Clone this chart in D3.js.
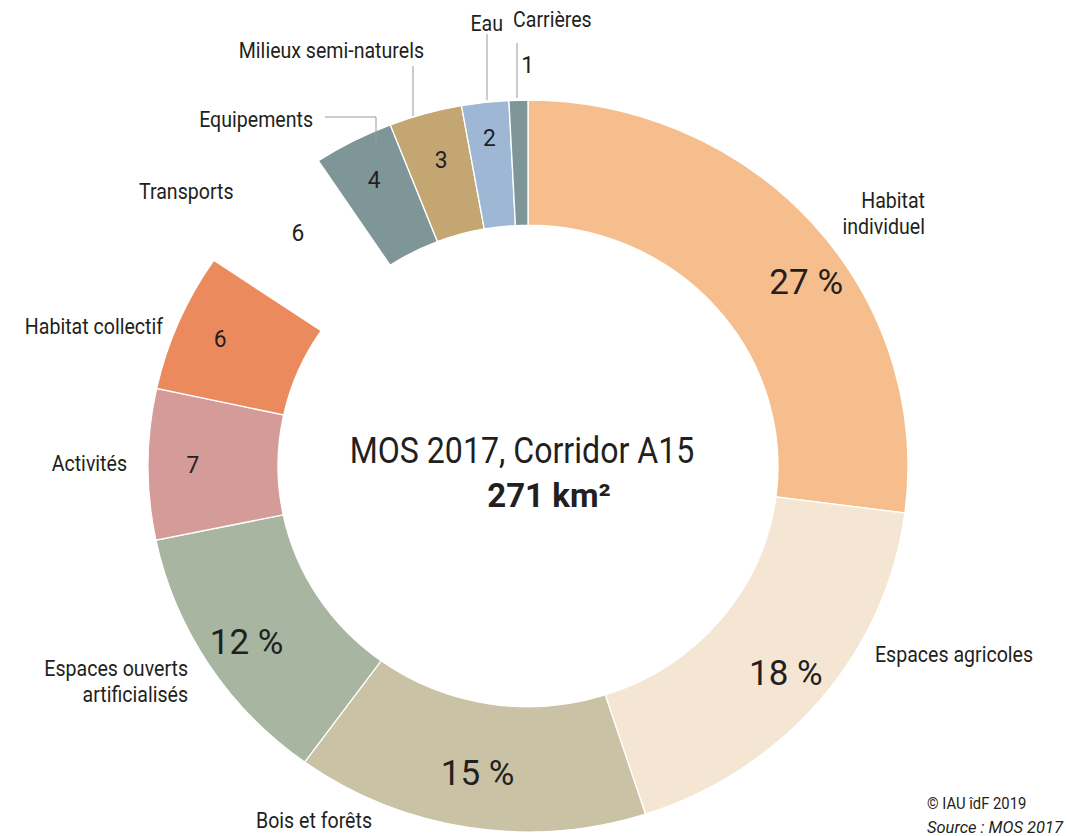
<!DOCTYPE html>
<html><head><meta charset="utf-8">
<script src="https://cdn.jsdelivr.net/npm/d3@7"></script>
<style>
body{margin:0;background:#fff}
svg{display:block}
text{font-family:Roboto,"Liberation Sans",sans-serif;fill:#231f20}
</style>
</head><body>
<svg id="chart" width="1068" height="836"></svg>
<script>
// ---- data ----
const categories = ["Habitat individuel","Espaces agricoles","Bois et forêts","Espaces ouverts artificialisés","Activités","Habitat collectif","Transports","Equipements","Milieux semi-naturels","Eau","Carrières"];
const shares = [27.05, 17.95, 15.0, 11.75, 6.65, 6.1, 6.2, 3.4, 3.1, 2.0, 0.8];
const valueLabels = ["27 %","18 %","15 %","12 %","7","6","6","4","3","2","1"];
const colors = ["#f6bd8d","#f4e6d3","#c9c2a5","#a7b5a1","#d49b98","#eb8b5d","none","#7f9698","#c4a672","#9db7d5","#7f9698"];
const title = "MOS 2017, Corridor A15";
const subtitle = "271 km²";
const credit = "© IAU îdF 2019";
const source = "Source : MOS 2017";

// ---- layout ----
const cx = 528, cy = 466, sy = 0.963;
const rIn = 250, rOut = 380;

const svg = d3.select("#chart");

const pie = d3.pie().sort(null).value(d => d.v);
const data = categories.map((c,i) => ({c, v: shares[i], lab: valueLabels[i], col: colors[i]}));
const arcs = pie(data);
const arc = d3.arc().innerRadius(rIn).outerRadius(rOut);

const g = svg.append("g").attr("transform", `translate(${cx},${cy}) scale(1,${sy})`);
g.selectAll("path").data(arcs).join("path")
  .attr("d", arc)
  .attr("fill", d => d.data.col === "none" ? "none" : d.data.col)
  .attr("stroke", d => d.data.col === "none" ? "none" : "#fff")
  .attr("stroke-width", 1.3)
  .attr("vector-effect","non-scaling-stroke");

function txt(x, y, s, size, anchor, sx, extra) {
  const t = svg.append("text")
    .attr("transform", `translate(${x},${y}) scale(${sx},1)`)
    .attr("text-anchor", anchor || "start")
    .attr("font-size", size)
    .text(s);
  if (extra) extra(t);
  return t;
}

// value labels placed along the ring
const valueLayout = { // radius, angle shift (deg)
  "Habitat individuel":[338, 6.7],
  "Carrières":[417, 1.4],
  "Bois et forêts":[322, 0],
  "Transports":[334, 1.1],
  "Eau":[343, 0],
  "Milieux semi-naturels":[330, 0.4]
};
arcs.forEach(d => {
  const lay = valueLayout[d.data.c] || [335, 0];
  const a = (d.startAngle + d.endAngle)/2 + lay[1]*Math.PI/180;
  const x = cx + lay[0]*Math.sin(a);
  const y = cy - lay[0]*Math.cos(a)*sy;
  const big = d.data.lab.includes("%");
  txt(x, y, d.data.lab, big ? 35 : 24, "middle", big ? 1 : 0.95, t => t.attr("dy","0.36em"));
});

// category labels
const catLayout = {
  "Habitat individuel":[925, 208, "end"],
  "Espaces agricoles":[875, 662, "start"],
  "Bois et forêts":[256, 828, "start"],
  "Espaces ouverts artificialisés":[188, 676, "end"],
  "Activités":[127, 471, "end"],
  "Habitat collectif":[163, 334, "end"],
  "Transports":[139, 199, "start"],
  "Equipements":[313, 127, "end"],
  "Milieux semi-naturels":[424, 58, "end"],
  "Eau":[503, 31, "end"],
  "Carrières":[513, 27, "start"]
};
const twoLine = {"Habitat individuel":["Habitat","individuel"], "Espaces ouverts artificialisés":["Espaces ouverts","artificialisés"]};
categories.forEach(c => {
  const [x,y,anc] = catLayout[c];
  const lines = twoLine[c] || [c];
  lines.forEach((ln,i) => txt(x, y + i*26, ln, 22, anc, 0.89));
});

// leader lines
const leaders = [
  [[517,43],[517,98]],
  [[487,34],[487,100]],
  [[413,66],[413,116]],
  [[325,117],[376,117],[376,143]]
];
svg.selectAll("path.leader").data(leaders).join("path")
  .attr("class","leader")
  .attr("d", d => d3.line()(d))
  .attr("fill","none").attr("stroke","#9a9a9a").attr("stroke-width",1);

// centre title
txt(522, 463, title, 37, "middle", 0.868);
txt(549, 507, subtitle, 33, "middle", 1, t => t.attr("font-weight","bold"));

// footer
txt(927, 809, credit, 17, "start", 0.87);
txt(927, 833, source, 17, "start", 0.97, t => t.attr("font-style","italic"));
</script>
</body></html>
